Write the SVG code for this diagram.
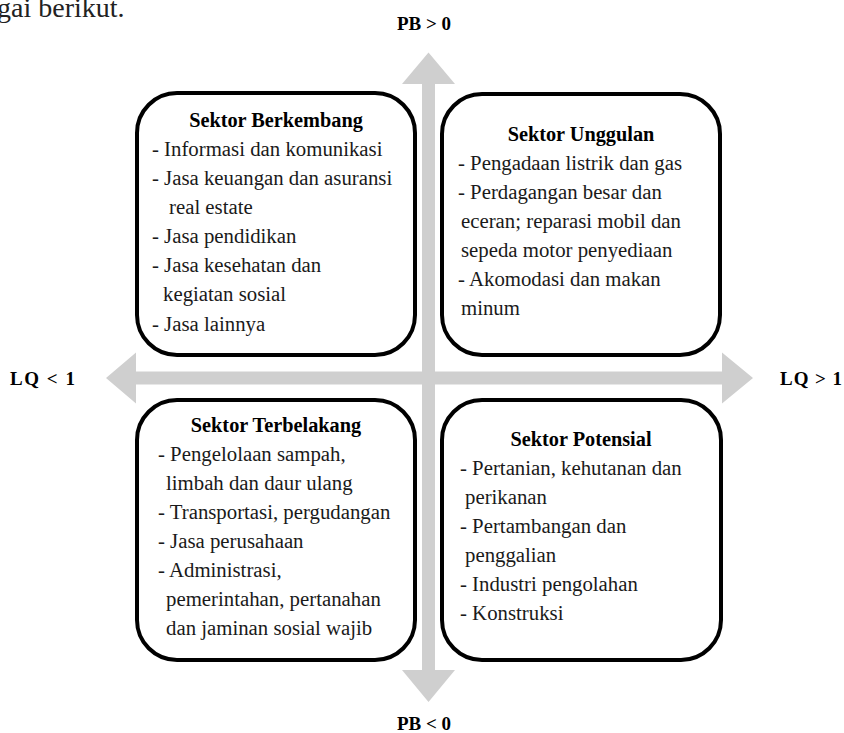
<svg xmlns="http://www.w3.org/2000/svg" width="844" height="733" viewBox="0 0 844 733">
<style>
.box{fill:#fff;stroke:#000;stroke-width:4}
.axis{fill:#cfcfcf;stroke:none}
.t{font-family:"Liberation Serif","Times New Roman",serif;font-size:20.8px;fill:#1a1a1a}
.h{font-family:"Liberation Serif","Times New Roman",serif;font-size:20.3px;font-weight:bold;fill:#000;text-anchor:middle}
.lab{font-family:"Liberation Serif","Times New Roman",serif;font-size:19px;font-weight:bold;fill:#000}
</style>
<rect width="844" height="733" fill="#fff"/>
<text x="-3" y="17" style="font-family:'Liberation Serif',serif;font-size:28px;fill:#222">gai berikut.</text>
<g id="connectors">
<path class="axis" d="M428.5,52.5 L455,84 L435,84 L435,670 L455,670 L428.5,702 L402,670 L422,670 L422,84 L402,84 Z"/>
<path class="axis" d="M106,378 L136,352.5 L136,371.5 L722,371.5 L722,352.5 L753,378 L722,403.5 L722,384.5 L136,384.5 L136,403.5 Z"/>
</g>
<g id="axis-labels">
<text class="lab" x="424" y="30" text-anchor="middle">PB &gt; 0</text>
<text class="lab" x="424" y="730" text-anchor="middle">PB &lt; 0</text>
<text class="lab" x="10" y="385" textLength="65">LQ &lt; 1</text>
<text class="lab" x="780" y="385" textLength="62">LQ &gt; 1</text>
</g>
<g id="sektor-berkembang">
<rect class="box" x="137" y="93" width="278" height="262" rx="40" ry="40"/>
<text class="h" x="276" y="127">Sektor Berkembang</text>
<text class="t" x="152" y="156">- Informasi dan komunikasi</text>
<text class="t" x="152" y="185">- Jasa keuangan dan asuransi</text>
<text class="t" x="169" y="214">real estate</text>
<text class="t" x="152" y="243">- Jasa pendidikan</text>
<text class="t" x="152" y="272">- Jasa kesehatan dan</text>
<text class="t" x="163" y="301">kegiatan sosial</text>
<text class="t" x="152" y="331">- Jasa lainnya</text>
</g>
<g id="sektor-unggulan">
<rect class="box" x="442" y="94" width="278" height="261" rx="40" ry="40"/>
<text class="h" x="581" y="141">Sektor Unggulan</text>
<text class="t" x="458" y="170">- Pengadaan listrik dan gas</text>
<text class="t" x="458" y="199">- Perdagangan besar dan</text>
<text class="t" x="461" y="228">eceran; reparasi mobil dan</text>
<text class="t" x="461" y="257">sepeda motor penyediaan</text>
<text class="t" x="458" y="286">- Akomodasi dan makan</text>
<text class="t" x="461" y="315">minum</text>
</g>
<g id="sektor-terbelakang">
<rect class="box" x="137" y="400" width="278" height="260" rx="40" ry="40"/>
<text class="h" x="276" y="432">Sektor Terbelakang</text>
<text class="t" x="158" y="461">- Pengelolaan sampah,</text>
<text class="t" x="166" y="490">limbah dan daur ulang</text>
<text class="t" x="158" y="519">- Transportasi, pergudangan</text>
<text class="t" x="158" y="548">- Jasa perusahaan</text>
<text class="t" x="158" y="577">- Administrasi,</text>
<text class="t" x="166" y="606">pemerintahan, pertanahan</text>
<text class="t" x="166" y="635">dan jaminan sosial wajib</text>
</g>
<g id="sektor-potensial">
<rect class="box" x="442" y="400" width="279" height="260" rx="40" ry="40"/>
<text class="h" x="581" y="446">Sektor Potensial</text>
<text class="t" x="460" y="475">- Pertanian, kehutanan dan</text>
<text class="t" x="465" y="504">perikanan</text>
<text class="t" x="460" y="533">- Pertambangan dan</text>
<text class="t" x="465" y="562">penggalian</text>
<text class="t" x="460" y="591">- Industri pengolahan</text>
<text class="t" x="460" y="620">- Konstruksi</text>
</g>
</svg>
